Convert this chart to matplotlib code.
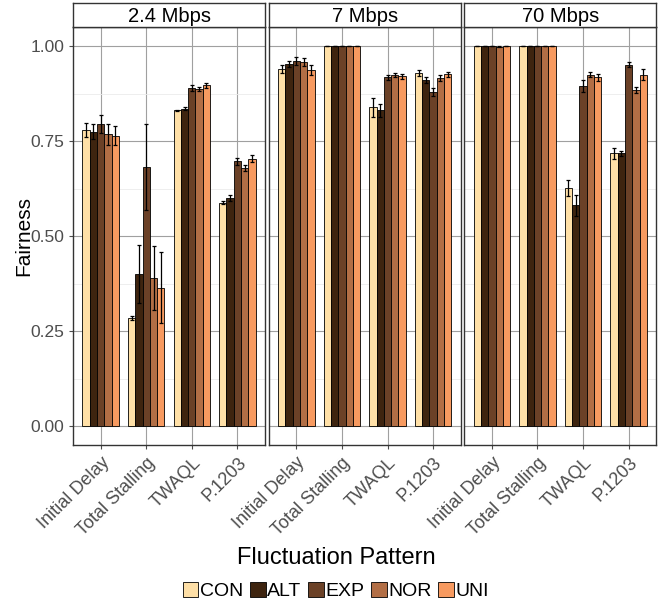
import numpy as np
import matplotlib.pyplot as plt
from matplotlib.patches import Patch

plt.rcParams['font.family'] = ['Liberation Sans', 'DejaVu Sans']

bandwidths = ["2.4 Mbps", "7 Mbps", "70 Mbps"]
metrics = ["Initial Delay", "Total Stalling", "TWAQL", "P.1203"]
patterns = ["CON", "ALT", "EXP", "NOR", "UNI"]
colors = ["#FFE0A7", "#3E240F", "#6B4127", "#B26E45", "#F79A60"]

# rows = metrics, columns = patterns
means_24 = [[0.779, 0.775, 0.796, 0.768, 0.764],
            [0.285, 0.401, 0.682, 0.389, 0.364],
            [0.831, 0.836, 0.890, 0.888, 0.897],
            [0.588, 0.601, 0.697, 0.680, 0.704]]
err_24 = [[0.018, 0.020, 0.024, 0.028, 0.025],
          [0.005, 0.076, 0.114, 0.084, 0.093],
          [0.002, 0.003, 0.008, 0.006, 0.007],
          [0.004, 0.008, 0.010, 0.008, 0.010]]

means_7 = [[0.940, 0.954, 0.961, 0.958, 0.938],
           [1.000, 1.000, 1.000, 1.000, 1.000],
           [0.840, 0.831, 0.918, 0.925, 0.921],
           [0.930, 0.910, 0.880, 0.917, 0.926]]
err_7 = [[0.010, 0.008, 0.011, 0.010, 0.014],
         [0.000, 0.000, 0.000, 0.000, 0.000],
         [0.025, 0.017, 0.007, 0.005, 0.006],
         [0.007, 0.008, 0.010, 0.008, 0.007]]

means_70 = [[1.000, 1.000, 1.000, 0.999, 1.000],
            [1.000, 1.000, 1.000, 1.000, 1.000],
            [0.627, 0.581, 0.895, 0.925, 0.918],
            [0.718, 0.718, 0.952, 0.886, 0.925]]
err_70 = [[0.000, 0.000, 0.000, 0.001, 0.000],
          [0.000, 0.000, 0.000, 0.000, 0.000],
          [0.022, 0.027, 0.015, 0.007, 0.010],
          [0.014, 0.007, 0.007, 0.008, 0.014]]

all_means = [means_24, means_7, means_70]
all_errs = [err_24, err_7, err_70]

W, H = 663, 603
fig = plt.figure(figsize=(W / 100, H / 100), dpi=100)

panel_left = [73.3, 269.0, 464.5]
panel_w = 191.5
top, bottom = 27.3, 445.0
strip_top = 3.3

x = np.arange(1, len(metrics) + 1)
bw = 0.8 / len(patterns)

for i, bwname in enumerate(bandwidths):
    ax = fig.add_axes([panel_left[i] / W, 1 - bottom / H, panel_w / W, (bottom - top) / H])
    m = np.array(all_means[i])
    e = np.array(all_errs[i])
    for j, p in enumerate(patterns):
        xs = x - 0.4 + bw * (j + 0.5)
        ax.bar(xs, m[:, j], width=bw, color=colors[j], edgecolor="black", linewidth=0.6, zorder=3)
        ax.errorbar(xs, m[:, j], yerr=e[:, j], fmt="none", ecolor="black",
                    elinewidth=0.9, capsize=1.6, capthick=0.9, zorder=4)
    ax.set_xlim(0.4, 4.6)
    ax.set_ylim(-0.05, 1.05)
    ax.set_yticks([0, 0.25, 0.5, 0.75, 1.0])
    ax.set_yticks([0.125, 0.375, 0.625, 0.875], minor=True)
    ax.set_xticks(x)
    ax.set_xticklabels(metrics, rotation=45, ha="right", rotation_mode="anchor",
                       fontsize=13, color="#4D4D4D")
    ax.grid(True, which="major", color="#A0A0A0", linewidth=0.8, zorder=0)
    ax.grid(True, which="minor", axis="y", color="#EBEBEB", linewidth=0.6, zorder=0)
    ax.tick_params(which="major", length=3, color="#4D4D4D", width=0.8)
    ax.tick_params(which="minor", length=0)
    if i == 0:
        ax.set_yticklabels(["0.00", "0.25", "0.50", "0.75", "1.00"], fontsize=12.5, color="#4D4D4D")
    else:
        ax.tick_params(axis="y", labelleft=False, length=0)
    for s in ax.spines.values():
        s.set_color("#333333")
        s.set_linewidth(1.0)
    ax.set_axisbelow(True)

    sax = fig.add_axes([panel_left[i] / W, 1 - top / H, panel_w / W, (top - strip_top) / H])
    sax.set_xticks([])
    sax.set_yticks([])
    for s in sax.spines.values():
        s.set_color("#333333")
        s.set_linewidth(1.0)
    sax.text(0.5, 0.47, bwname, ha="center", va="center", fontsize=14.5, transform=sax.transAxes)

fig.text(24 / W, 1 - 236 / H, "Fairness", rotation=90, ha="center", va="center", fontsize=15)
fig.text(336 / W, 1 - 558 / H, "Fluctuation Pattern", ha="center", va="center", fontsize=17)
handles = [Patch(facecolor=c, edgecolor="black", linewidth=0.6) for c in colors]
fig.legend(handles, patterns, loc="center", bbox_to_anchor=(336 / W, 1 - 591 / H), ncol=5,
           frameon=False, fontsize=14, handlelength=0.8, handleheight=0.8,
           handletextpad=0.08, columnspacing=0.35, borderpad=0)

fig.savefig("out.png", dpi=100)
